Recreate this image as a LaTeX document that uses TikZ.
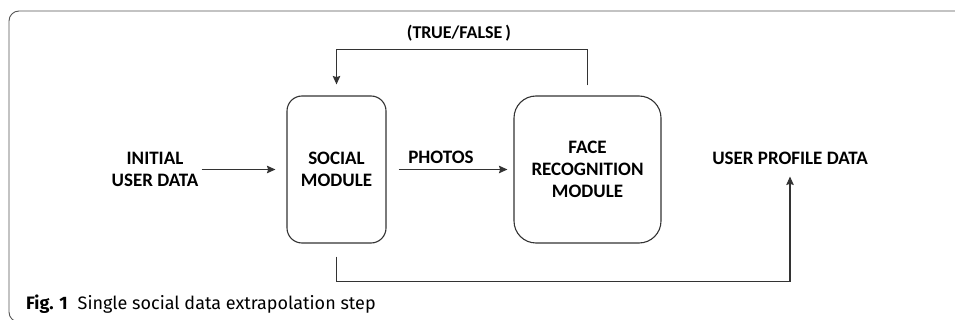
\documentclass[tikz,border=0pt]{standalone}
\usepackage{fontspec}
\setmainfont{Carlito}
\newfontfamily\capfont{Fira Sans}
\usetikzlibrary{arrows.meta}
\definecolor{ln}{HTML}{333333}
\definecolor{fr}{HTML}{555555}
\tikzset{
  lbl/.style={font=\fontsize{19}{22}\selectfont\bfseries, align=center, text=black, inner sep=2pt},
  modbox/.style={draw=ln, line width=1.1pt, minimum height=147pt},
  conn/.style={draw=ln, line width=1.1pt, -{Stealth[length=8.5pt,width=7.5pt,inset=1.2pt]}},
}
\begin{document}
\begin{tikzpicture}[x=1pt,y=-1pt]
\useasboundingbox (0,0) rectangle (955,320);
\clip (0,0) rectangle (955,320);
\fill[white] (0,0) rectangle (955,320);
\draw[fr, line width=0.9pt, rounded corners=10pt] (975,11) -- (9,11) -- (9,322) -- (975,322);

\node[modbox, rounded corners=15pt, minimum width=99pt] (social) at (336.5,169.5) {};
\node[lbl] (socialtxt) at (social.center) {SOCIAL\\MODULE};
\node[modbox, rounded corners=22pt, minimum width=147pt] (face) at (587.5,169.5) {};
\node[lbl] (facetxt) at (face.center) {FACE\\RECOGNITION\\MODULE};

\node[lbl] (init) at (155,169.5) {INITIAL\\USER DATA};
\node[lbl] (photos) at (441,157) {PHOTOS};
\node[lbl, font=\fontsize{18}{20}\selectfont\bfseries] (tf) at (459,33) {(TRUE/FALSE\,)};
\node[lbl] (upd) at (790,158) {USER PROFILE DATA};

\draw[conn, shorten <=1pt, shorten >=11pt] (init.east) -- (social.west);
\draw[conn, shorten <=12pt, shorten >=6pt] (social.east) -- (face.west);
\draw[conn, shorten <=10pt, shorten >=11pt] (face.north) -- ++(0,-46) -| (social.north);
\draw[conn, shorten <=13pt, shorten >=10pt] (social.south) -- ++(0,38) -| (upd.south);

\node[anchor=base west, inner sep=0pt, font=\capfont\fontsize{18}{20}\selectfont] (cap) at (26,309)
  {\textbf{Fig. 1}\hspace{0.55em}Single social data extrapolation step};
\end{tikzpicture}
\end{document}
